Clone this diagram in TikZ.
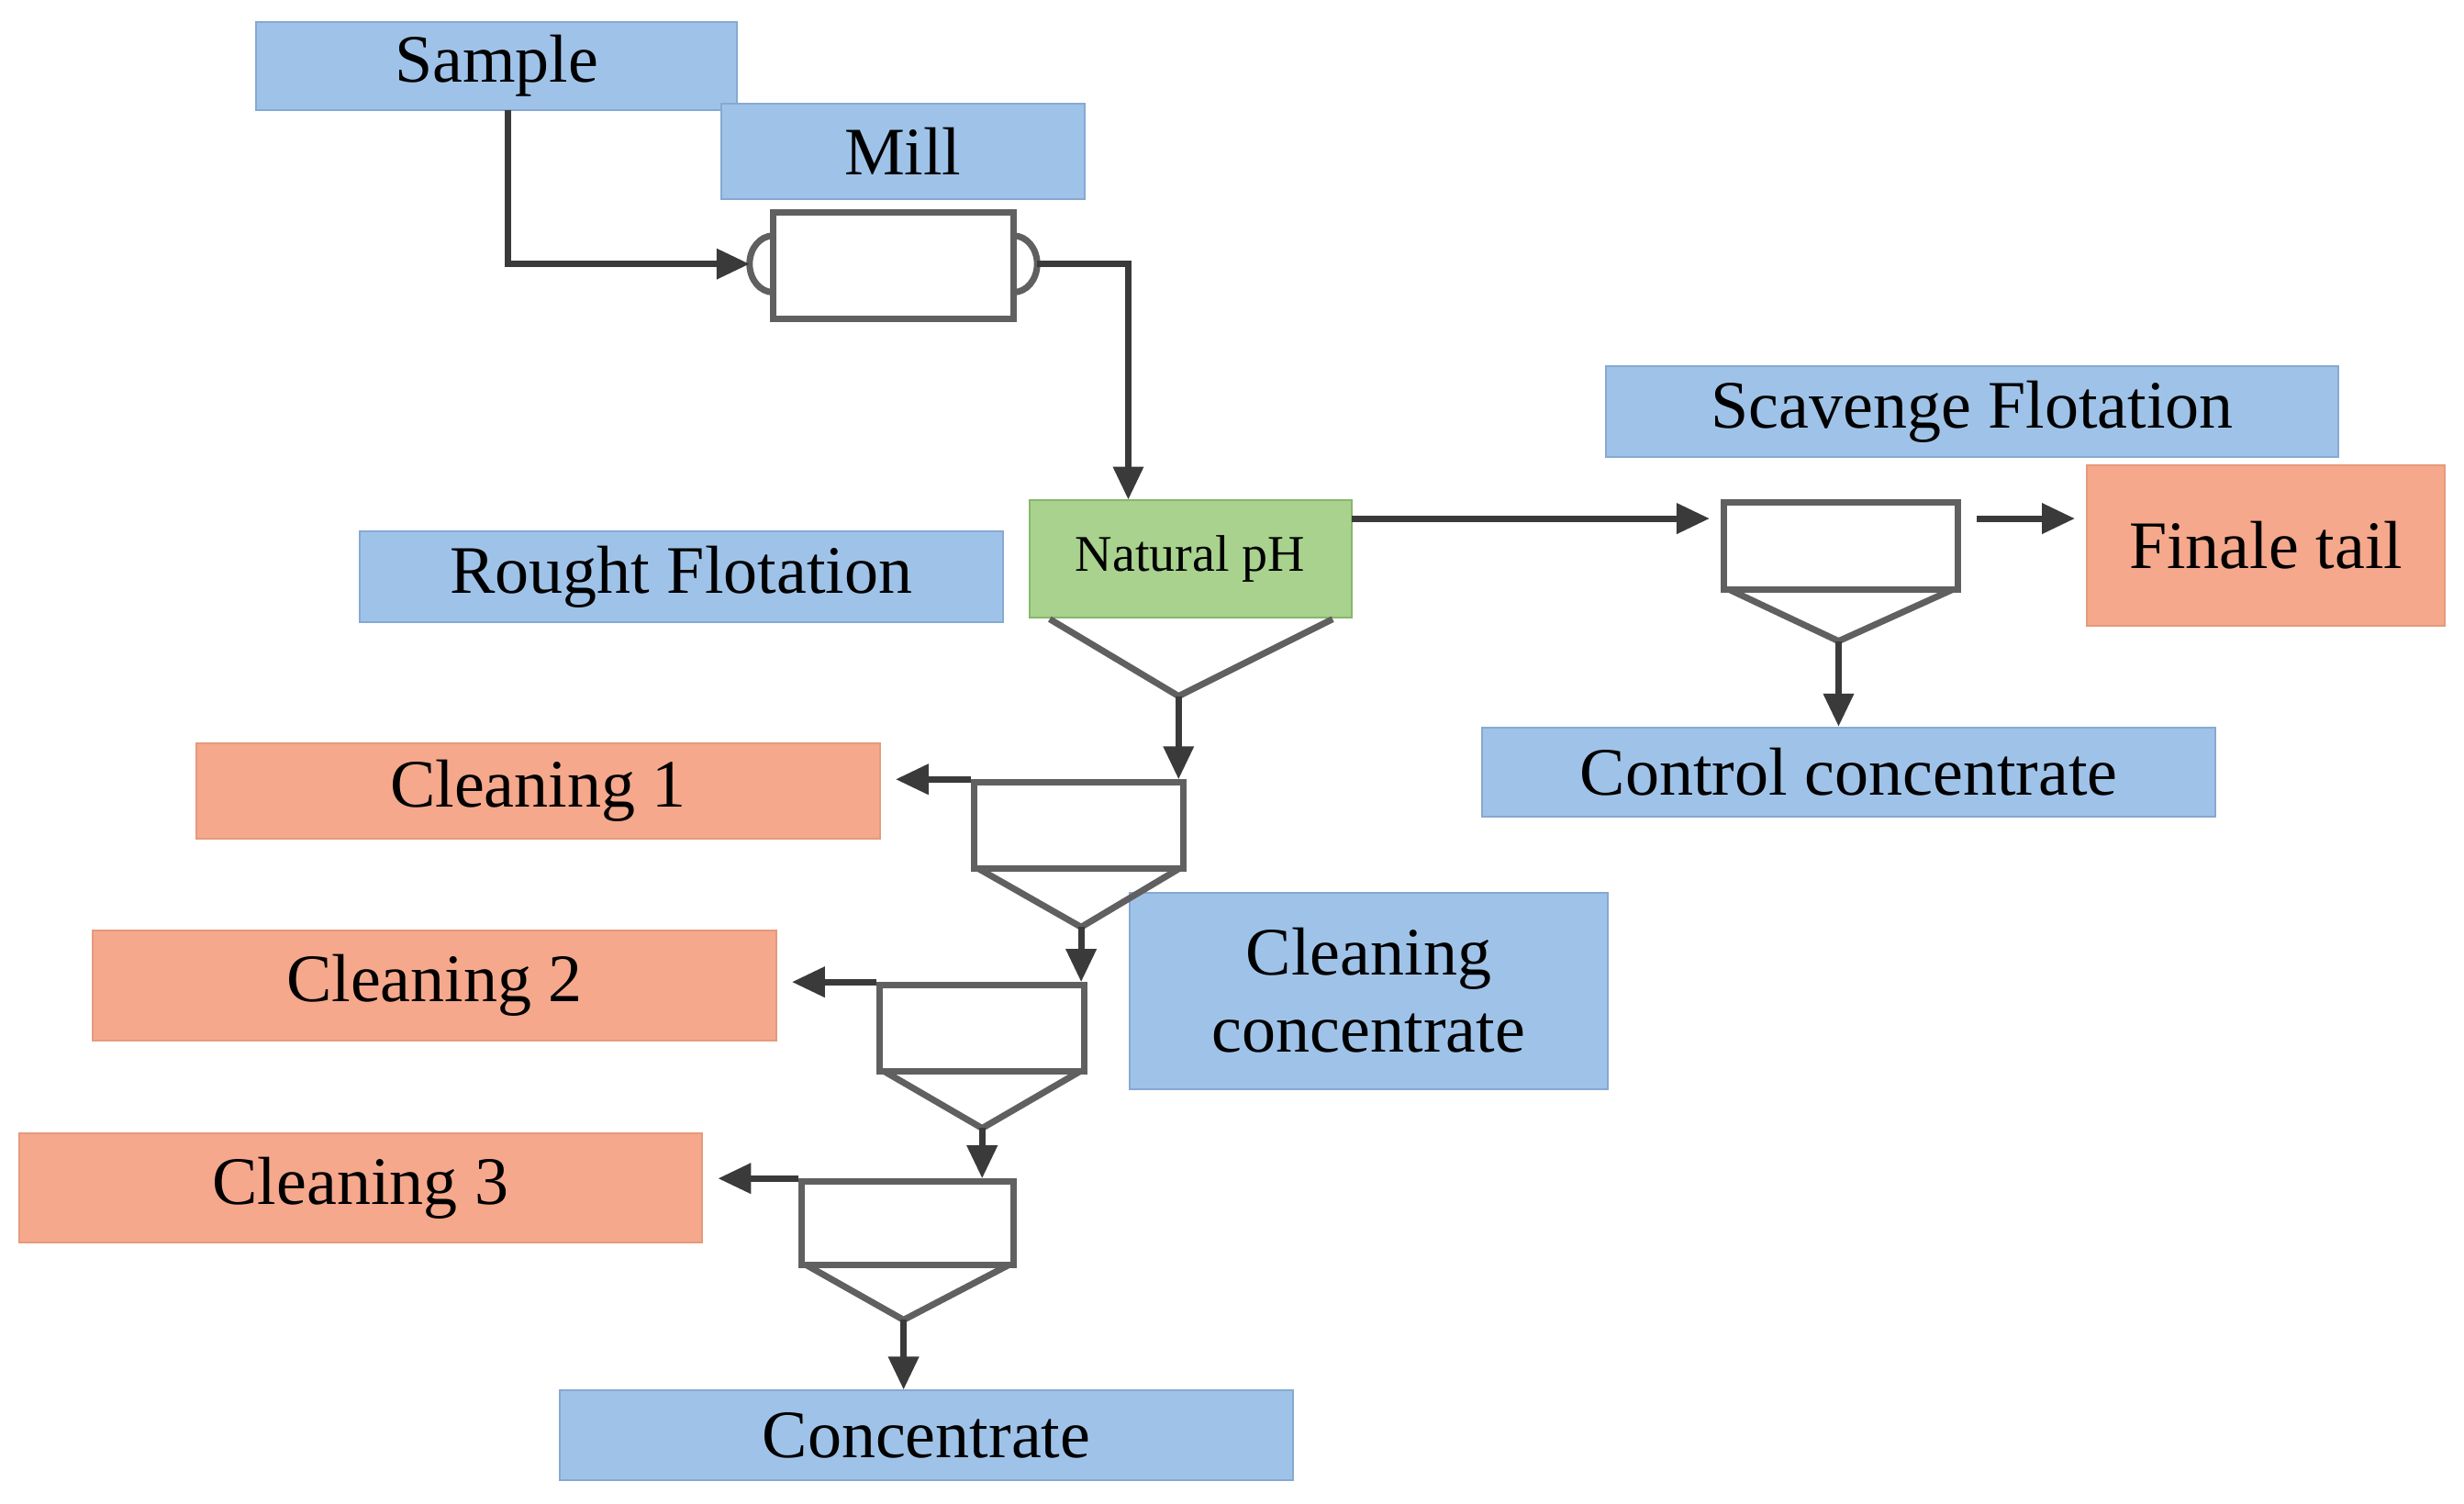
\documentclass[tikz,border=0pt]{standalone}
\usepackage{fontspec}
\setmainfont{Liberation Serif}
\usetikzlibrary{arrows.meta}
\definecolor{bfill}{HTML}{9FC3E8}
\definecolor{bdraw}{HTML}{86A9D2}
\definecolor{ofill}{HTML}{F5A88C}
\definecolor{odraw}{HTML}{E59A7C}
\definecolor{gfill}{HTML}{A8D28E}
\definecolor{gdraw}{HTML}{86B86A}
\definecolor{ln}{HTML}{3A3A3A}
\definecolor{cl}{HTML}{606060}
\begin{document}
\begin{tikzpicture}[x=0.856pt,y=-0.856pt,
  lab/.style={draw=bdraw,line width=1pt,fill=bfill,inner sep=0pt,font=\fontsize{37}{42}\selectfont,align=center},
  olab/.style={lab,draw=odraw,fill=ofill},
  cell/.style={draw=cl,line width=3.5pt,fill=white,inner sep=0pt},
  cone/.style={draw=cl,line width=3.5pt,line join=miter},
  flow/.style={draw=ln,line width=3.5pt,-{Triangle[length=18pt,width=16pt]}}]
\useasboundingbox (0,0) rectangle (1568,957);
\fill[white] (0,0) rectangle (1568,957);
% labels
\node[lab,minimum width=306*0.856pt,minimum height=56*0.856pt] (sample) at (316,42) {Sample};
\node[lab,minimum width=231*0.856pt,minimum height=61*0.856pt] (mill) at (574.5,96.5) {Mill};
\node[lab,minimum width=409*0.856pt,minimum height=58*0.856pt] (rough) at (433.5,367) {Rought Flotation};
\node[lab,minimum width=466*0.856pt,minimum height=58*0.856pt] (scav) at (1255,262) {Scavenge Flotation};
\node[olab,minimum width=228*0.856pt,minimum height=102*0.856pt] (tail) at (1442,347) {Finale tail};
\node[lab,minimum width=467*0.856pt,minimum height=57*0.856pt] (control) at (1176.5,491.5) {Control concentrate};
\node[olab,minimum width=435*0.856pt,minimum height=61*0.856pt] (c1) at (342.5,503.5) {Cleaning 1};
\node[olab,minimum width=435*0.856pt,minimum height=70*0.856pt] (c2) at (276.5,627) {Cleaning 2};
\node[olab,minimum width=435*0.856pt,minimum height=70*0.856pt] (c3) at (229.5,756) {Cleaning 3};
\node[lab,minimum width=304*0.856pt,minimum height=125*0.856pt] (cc) at (871,630.5) {Cleaning\\concentrate};
\node[lab,minimum width=467*0.856pt,minimum height=57*0.856pt] (conc) at (589.5,913.5) {Concentrate};
% mill drum
\draw[cl,line width=3.5pt] (492,150) arc[start angle=-90,end angle=-270,x radius=15,y radius=18];
\draw[cl,line width=3.5pt] (645,150) arc[start angle=-90,end angle=90,x radius=15,y radius=18];
\node[cell,minimum width=153*0.856pt,minimum height=68*0.856pt] (drum) at (568.5,169) {};
\coordinate (millin) at (477,168);
\coordinate (millout) at (660,168);
% rougher
\node[draw=gdraw,line width=1pt,fill=gfill,minimum width=205*0.856pt,minimum height=75*0.856pt,inner sep=0pt,font=\fontsize{28}{32}\selectfont] (ph) at (757.5,355.5) {Natural pH};
\draw[cone] (668,394) -- (750,443) coordinate (rtip) -- (848,394);
% scavenger
\node[cell,minimum width=149*0.856pt,minimum height=55*0.856pt] (scell) at (1171.5,347.5) {};
\draw[cone] (1100,375) -- (1170,408) coordinate (stip) -- (1243,375);
% cleaners
\node[cell,minimum width=133*0.856pt,minimum height=55*0.856pt] (k1) at (686.5,525.5) {};
\draw[cone] (623,553) -- (688,590) coordinate (t1) -- (750,553);
\node[cell,minimum width=130*0.856pt,minimum height=55*0.856pt] (k2) at (625,654.5) {};
\draw[cone] (563,682) -- (625,718) coordinate (t2) -- (687,682);
\node[cell,minimum width=135*0.856pt,minimum height=53*0.856pt] (k3) at (577.5,778.5) {};
\draw[cone] (513,805) -- (575,840) coordinate (t3) -- (642,805);
% flows
\coordinate (sd) at (323,70);
\draw[flow] (sd) |- (millin);
\draw[flow] (millout) -| (718,318);
\coordinate (phr) at (860,330);
\draw[flow,shorten >=6] (phr) -- (phr -| scell.west);
\draw[flow] (rtip) -- (rtip |- k1.north);
\draw[flow] (t1) -- (t1 |- k2.north);
\draw[flow] (t2) -- (t2 |- k3.north);
\draw[flow] (t3) -- (t3 |- conc.north);
\draw[flow,shorten >=8] (k1.north west) -- (k1.north west -| c1.east);
\draw[flow,shorten >=8] (k2.north west) -- (k2.north west -| c2.east);
\draw[flow,shorten >=8] (k3.north west) -- (k3.north west -| c3.east);
\draw[flow] (stip) -- (stip |- control.north);
\coordinate (sr) at (1258,330);
\draw[flow,shorten >=6] (sr) -- (sr -| tail.west);
\end{tikzpicture}
\end{document}
